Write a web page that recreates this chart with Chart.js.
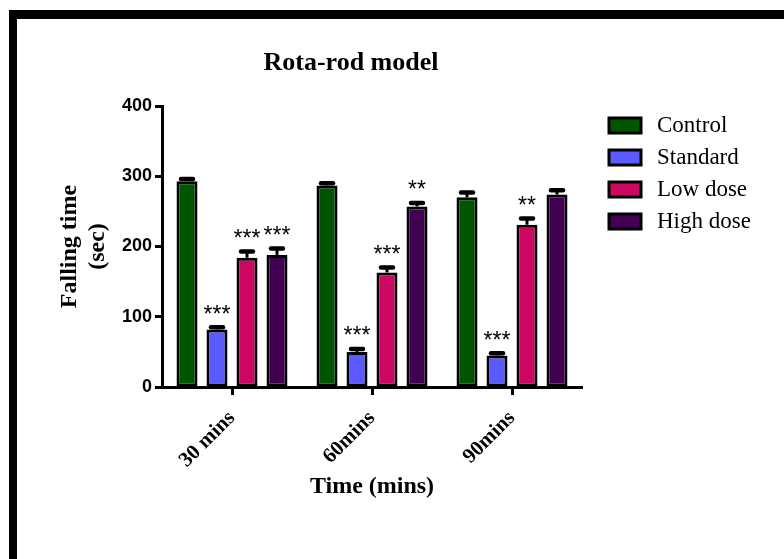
<!DOCTYPE html>
<html>
<head>
<meta charset="utf-8">
<title>Rota-rod model</title>
<script src="https://cdn.jsdelivr.net/npm/chart.js@4"></script>
<style>
  html, body { margin: 0; padding: 0; background: #fff; overflow: hidden; }
  #wrap { position: relative; width: 784px; height: 559px; overflow: hidden; }
  #frame {
    position: absolute; left: 9px; top: 10px; width: 900px; height: 700px;
    border-top: 9px solid #000; border-left: 8px solid #000; pointer-events: none;
  }
</style>
</head>
<body>
<div id="wrap">
  <canvas id="chart-1" width="784" height="559"></canvas>
  <div id="frame"></div>
</div>
<script>
// data (mean +- SEM, sec)
const timeLabels = ['30 mins', '60mins', '90mins'];
const yTicks = [0, 100, 200, 300, 400];

const control = [293, 287, 270];
const controlErr = [3, 3, 7];
const controlStars = ['', '', ''];

const standard = [82, 50, 45];
const standardErr = [3, 4, 3];
const standardStars = ['***', '***', '***'];

const lowDose = [184, 163, 231];
const lowDoseErr = [9, 7, 9];
const lowDoseStars = ['***', '***', '**'];

const highDose = [188, 257, 274];
const highDoseErr = [9, 5, 6];
const highDoseStars = ['***', '**', ''];

const serif = "'Liberation Serif', 'Times New Roman', serif";
const sans = "'Liberation Sans', Arial, sans-serif";

function makeSet(label, data, err, stars, color) {
  return {
    label: label,
    data: data,
    err: err,
    stars: stars,
    backgroundColor: color,
    borderColor: '#000',
    borderWidth: 3,
    borderSkipped: false
  };
}

// error bars + significance stars
const errorBars = {
  id: 'errorBars',
  afterDatasetsDraw(chart) {
    const c = chart.ctx;
    const y = chart.scales.y;
    c.save();
    chart.data.datasets.forEach(function (ds, i) {
      const meta = chart.getDatasetMeta(i);
      meta.data.forEach(function (bar, j) {
        const top = y.getPixelForValue(ds.data[j] + ds.err[j]);
        c.strokeStyle = '#000';
        c.lineWidth = 3;
        c.beginPath();
        c.moveTo(bar.x, bar.y);
        c.lineTo(bar.x, top);
        c.stroke();
        c.lineWidth = 4.5;
        c.lineCap = 'round';
        c.beginPath();
        c.moveTo(bar.x - 6, top);
        c.lineTo(bar.x + 6, top);
        c.stroke();
        c.lineCap = 'butt';
        if (ds.stars[j]) {
          c.fillStyle = '#000';
          c.font = '23px ' + sans;
          c.textAlign = 'center';
          c.textBaseline = 'middle';
          c.fillText(ds.stars[j], bar.x, top - 12);
        }
      });
    });
    c.restore();
  }
};

// chart title and legend on the right
const sideText = {
  id: 'sideText',
  afterDraw(chart) {
    const c = chart.ctx;
    const area = chart.chartArea;
    c.save();
    c.fillStyle = '#000';
    c.font = 'bold 26px ' + serif;
    c.textAlign = 'center';
    c.textBaseline = 'middle';
    c.fillText('Rota-rod model', (area.left + area.right) / 2 - 21, 63);

    c.font = '23px ' + serif;
    c.textAlign = 'left';
    chart.data.datasets.forEach(function (ds, i) {
      const bx = area.right + 27;
      const by = area.top + 12 + i * 32;
      c.fillStyle = ds.backgroundColor;
      c.fillRect(bx, by, 32, 15);
      c.strokeStyle = '#000';
      c.lineWidth = 3;
      c.strokeRect(bx, by, 32, 15);
      c.fillStyle = '#000';
      c.fillText(ds.label, bx + 48, by + 8);
    });
    c.restore();
  }
};

const ctx1 = document.getElementById('chart-1');

new Chart(ctx1, {
  type: 'bar',
  data: {
    labels: timeLabels,
    datasets: [
      makeSet('Control', control, controlErr, controlStars, '#005500'),
      makeSet('Standard', standard, standardErr, standardStars, '#5a5aff'),
      makeSet('Low dose', lowDose, lowDoseErr, lowDoseStars, '#cc0862'),
      makeSet('High dose', highDose, highDoseErr, highDoseStars, '#420052')
    ]
  },
  options: {
    responsive: false,
    animation: false,
    devicePixelRatio: 1,
    categoryPercentage: 0.857,
    barPercentage: 0.7,
    layout: {
      padding: { top: 106, left: 56, right: 202, bottom: 58 }
    },
    plugins: {
      legend: { display: false },
      title: { display: false },
      tooltip: { enabled: false }
    },
    scales: {
      x: {
        offset: true,
        afterFit: function (scale) { scale.height = 114; },
        grid: {
          offset: false,
          drawOnChartArea: false,
          drawTicks: true,
          tickLength: 8,
          tickWidth: 3,
          tickColor: '#000'
        },
        border: { color: '#000', width: 3 },
        ticks: {
          minRotation: 45,
          maxRotation: 45,
          padding: 11,
          color: '#000',
          font: { family: serif, size: 21, weight: 'bold' }
        },
        title: {
          display: true,
          text: 'Time (mins)',
          color: '#000',
          padding: 0,
          font: { family: serif, size: 24, weight: 'bold', lineHeight: 1.15 }
        }
      },
      y: {
        min: 0,
        max: 400,
        afterFit: function (scale) { scale.width = 106; },
        afterBuildTicks: function (scale) {
          scale.ticks = yTicks.map(function (v) { return { value: v }; });
        },
        grid: {
          drawOnChartArea: false,
          drawTicks: true,
          tickLength: 7,
          tickWidth: 3,
          tickColor: '#000'
        },
        border: { color: '#000', width: 3 },
        ticks: {
          padding: 3,
          color: '#000',
          font: { family: sans, size: 18, weight: 'bold' }
        },
        title: {
          display: true,
          text: ['Falling time', '(sec)'],
          color: '#000',
          padding: 0,
          font: { family: serif, size: 24, weight: 'bold', lineHeight: 1.15 }
        }
      }
    }
  },
  plugins: [errorBars, sideText]
});
</script>
</body>
</html>
